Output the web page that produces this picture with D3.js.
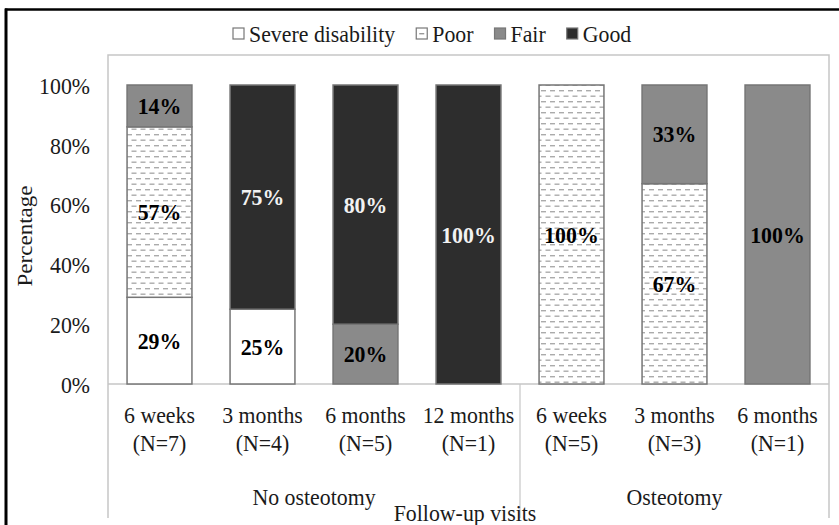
<!DOCTYPE html>
<html>
<head>
<meta charset="utf-8">
<script src="https://cdn.jsdelivr.net/npm/d3@7"></script>
<style>
  body { margin: 0; background: #fff; }
  svg { display: block; font-family: "Liberation Serif", "Times New Roman", serif; }
</style>
</head>
<body>
<svg></svg>
<script>
let width = 839;
let height = 525;

// data
let categories = ["6 weeks", "3 months", "6 months", "12 months", "6 weeks", "3 months", "6 months"];
let sampleSizes = ["(N=7)", "(N=4)", "(N=5)", "(N=1)", "(N=5)", "(N=3)", "(N=1)"];
let groups = ["No osteotomy", "Osteotomy"];
let groupSizes = [4, 3];
let levels = ["Severe disability", "Poor", "Fair", "Good"];
let severe = [29, 25, 0, 0, 0, 0, 0];
let poor = [57, 0, 0, 0, 100, 67, 0];
let fair = [14, 0, 20, 0, 0, 33, 100];
let good = [0, 75, 80, 100, 0, 0, 0];
let yTicks = [0, 20, 40, 60, 80, 100];

let rows = categories.map((c, i) => ({
    idx: i,
    "Severe disability": severe[i],
    "Poor": poor[i],
    "Fair": fair[i],
    "Good": good[i]
}));

let fills = {
    "Severe disability": "#ffffff",
    "Poor": "url(#dashes)",
    "Fair": "#8a8a8a",
    "Good": "#2d2d2d"
};
let labelColors = {
    "Severe disability": "#000",
    "Poor": "#000",
    "Fair": "#000",
    "Good": "#f2f2f2"
};

let plotLeft = 108, plotRight = 829, plotTop = 85, plotBase = 384;
let fontSize = 23;
let squeezeX = 0.95;

// text in the picture is a bit narrow and tall, so squeeze it horizontally
function squeeze(sel, extra) {
    sel.each(function() {
        let t = d3.select(this);
        let x = +t.attr("x") || 0;
        let y = +t.attr("y") || 0;
        t.attr("x", null).attr("y", null)
         .attr("transform", `translate(${x},${y}) scale(${squeezeX},1)` + (extra || ""));
    });
}

let xScale = d3.scaleBand()
    .domain(d3.range(categories.length))
    .range([plotLeft, plotRight])
    .paddingInner(0.37)
    .paddingOuter(0.185);

let yScale = d3.scaleLinear()
    .domain([0, 100])
    .range([plotBase, plotTop]);

let svg = d3.select("svg")
    .attr("width", width)
    .attr("height", height);

// hatch pattern for "Poor"
let defs = svg.append("defs");
let pat = defs.append("pattern")
    .attr("id", "dashes")
    .attr("patternUnits", "userSpaceOnUse")
    .attr("width", 9)
    .attr("height", 11);
pat.append("rect").attr("width", 9).attr("height", 11).attr("fill", "#fff");
[[1, 2], [5.5, 7.5], [-3.5, 7.5]].forEach(p => {
    pat.append("rect")
        .attr("x", p[0]).attr("y", p[1])
        .attr("width", 5).attr("height", 1.4)
        .attr("fill", "#ababab");
});

// outer frame (black, only top and left visible)
svg.append("line")
    .attr("x1", 5).attr("x2", width).attr("y1", 9.5).attr("y2", 9.5)
    .attr("stroke", "#000").attr("stroke-width", 2.5);
svg.append("line")
    .attr("x1", 6).attr("x2", 6).attr("y1", 8.5).attr("y2", height)
    .attr("stroke", "#000").attr("stroke-width", 3);

// plot border
let border = "#c6c6c6";
svg.append("path")
    .attr("d", `M${plotLeft},518 V55 H${plotRight} V518`)
    .attr("fill", "none")
    .attr("stroke", border)
    .attr("stroke-width", 1.5);

// baseline
svg.append("line")
    .attr("x1", plotLeft).attr("x2", plotRight)
    .attr("y1", plotBase).attr("y2", plotBase)
    .attr("stroke", border).attr("stroke-width", 1.5);

// group separator
let step = xScale.step();
let sepX = plotLeft + step * groupSizes[0];
svg.append("line")
    .attr("x1", sepX).attr("x2", sepX)
    .attr("y1", plotBase).attr("y2", 518)
    .attr("stroke", border).attr("stroke-width", 1.2);

// y axis labels
let yAxis = d3.axisLeft(yScale)
    .tickValues(yTicks)
    .tickFormat(d => d + "%")
    .tickSize(0)
    .tickPadding(0);

let yg = svg.append("g")
    .attr("transform", "translate(90, 1)")
    .call(yAxis);
yg.select(".domain").remove();
yg.selectAll("text")
    .attr("font-family", "Liberation Serif")
    .attr("font-size", fontSize)
    .attr("fill", "#1a1a1a")
    .attr("transform", `scale(${squeezeX},1)`);

svg.append("text")
    .attr("x", 32)
    .attr("y", 236)
    .attr("text-anchor", "middle")
    .attr("font-size", fontSize)
    .attr("fill", "#1a1a1a")
    .text("Percentage")
    .call(squeeze, " rotate(-90)");

// stacked bars
let stack = d3.stack().keys(levels);
let series = stack(rows);

let layers = svg.append("g")
    .selectAll("g")
    .data(series)
    .join("g");

layers.selectAll("rect")
    .data(s => s.filter(d => d[1] > d[0]).map(d => ({ key: s.key, d: d })))
    .join("rect")
    .attr("x", p => xScale(p.d.data.idx))
    .attr("width", xScale.bandwidth())
    .attr("y", p => yScale(p.d[1]))
    .attr("height", p => yScale(p.d[0]) - yScale(p.d[1]))
    .attr("fill", p => fills[p.key])
    .attr("stroke", "#767676")
    .attr("stroke-width", 1.5);

layers.selectAll("text")
    .data(s => s.filter(d => d[1] > d[0]).map(d => ({ key: s.key, d: d })))
    .join("text")
    .attr("x", p => xScale(p.d.data.idx) + xScale.bandwidth() / 2)
    .attr("y", p => yScale((p.d[0] + p.d[1]) / 2))
    .attr("dy", "0.35em")
    .attr("text-anchor", "middle")
    .attr("font-size", fontSize)
    .attr("font-weight", "bold")
    .attr("fill", p => labelColors[p.key])
    .text(p => (p.d[1] - p.d[0]) + "%")
    .call(squeeze);

// category labels
svg.append("g")
    .selectAll("text")
    .data(categories)
    .join("text")
    .attr("x", (d, i) => xScale(i) + xScale.bandwidth() / 2)
    .attr("y", 423)
    .attr("text-anchor", "middle")
    .attr("font-size", fontSize)
    .attr("fill", "#1a1a1a")
    .text(d => d)
    .call(squeeze);

svg.append("g")
    .selectAll("text")
    .data(sampleSizes)
    .join("text")
    .attr("x", (d, i) => xScale(i) + xScale.bandwidth() / 2)
    .attr("y", 451)
    .attr("text-anchor", "middle")
    .attr("font-size", fontSize)
    .attr("fill", "#1a1a1a")
    .text(d => d)
    .call(squeeze);

// group labels
let offset = 0;
groups.forEach((g, i) => {
    let x0 = plotLeft + step * offset;
    let x1 = plotLeft + step * (offset + groupSizes[i]);
    svg.append("text")
        .attr("x", (x0 + x1) / 2)
        .attr("y", 505)
        .attr("text-anchor", "middle")
        .attr("font-size", fontSize)
        .attr("fill", "#1a1a1a")
        .text(g)
        .call(squeeze);
    offset += groupSizes[i];
});

svg.append("text")
    .attr("x", 465)
    .attr("y", 521)
    .attr("text-anchor", "middle")
    .attr("font-size", fontSize)
    .attr("fill", "#1a1a1a")
    .text("Follow-up visits")
    .call(squeeze);

// legend
let legend = svg.append("g");
let lx = 233;
levels.forEach(k => {
    legend.append("rect")
        .attr("x", lx).attr("y", 28)
        .attr("width", 11).attr("height", 11)
        .attr("fill", k === "Poor" ? "#fff" : fills[k])
        .attr("stroke", "#777")
        .attr("stroke-width", 1.2);
    if (k === "Poor") {
        legend.append("rect")
            .attr("x", lx + 3).attr("y", 33)
            .attr("width", 5).attr("height", 1.4)
            .attr("fill", "#999");
    }
    let t = legend.append("text")
        .attr("x", lx + 16)
        .attr("y", 42)
        .attr("font-size", fontSize)
        .attr("fill", "#1a1a1a")
        .text(k);
    let w = t.node().getComputedTextLength() * squeezeX;
    t.call(squeeze);
    lx += 16 + w + 21;
});
</script>
</body>
</html>
